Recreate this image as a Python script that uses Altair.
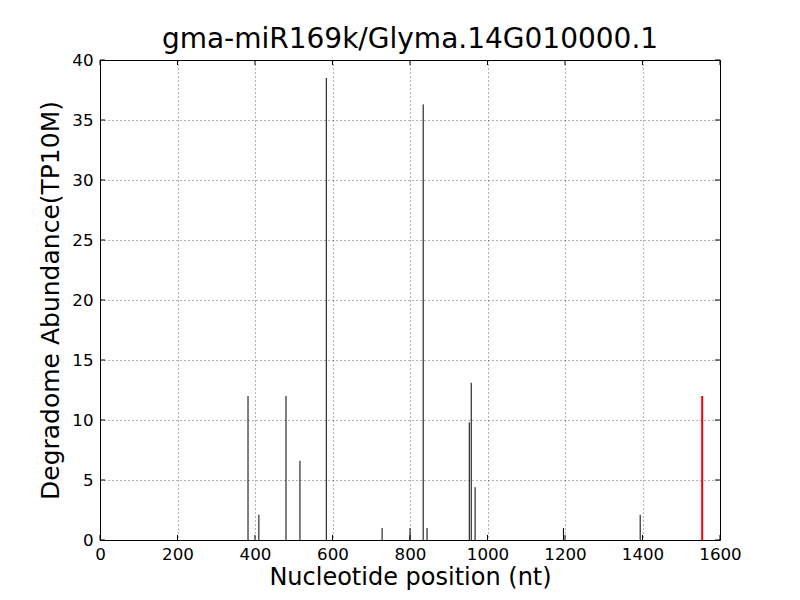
import altair as alt
import pandas as pd

# Data
positions = [382, 410, 480, 516, 584, 728, 800, 834, 844, 953, 958, 968, 1196, 1394]
abundance = [12.0, 2.1, 12.0, 6.6, 38.5, 1.0, 1.0, 36.3, 1.0, 9.8, 13.1, 4.4, 1.0, 2.1]
target_pos = [1554]
target_abund = [12.0]
x_ticks = [0, 200, 400, 600, 800, 1000, 1200, 1400, 1600]
y_ticks = [0, 5, 10, 15, 20, 25, 30, 35, 40]

W, H = 620, 480
FONT = "DejaVu Sans"

df = pd.DataFrame({"pos": positions, "val": abundance, "base": [0] * len(positions)})
dt = pd.DataFrame({"pos": target_pos, "val": target_abund, "base": [0] * len(target_pos)})
dxt = pd.DataFrame({"t": x_ticks})
dyt = pd.DataFrame({"t": y_ticks})

xs = alt.Scale(domain=[0, 1600], nice=False, zero=False)
ys = alt.Scale(domain=[0, 40], nice=False)

x_axis = alt.Axis(values=x_ticks, format="d", grid=True, ticks=False, domain=False,
                  labelFlush=False, labelPadding=6, titlePadding=3, titleFontSize=24,
                  title="Nucleotide position (nt)")
y_axis = alt.Axis(values=y_ticks, format="d", grid=True, ticks=False, domain=False,
                  labelFlush=False, labelPadding=7, titlePadding=8,
                  title="Degradome Abundance(TP10M)")

bars = alt.Chart(df).mark_rule(color="black", strokeWidth=1).encode(
    x=alt.X("pos:Q", scale=xs, axis=x_axis),
    y=alt.Y("val:Q", scale=ys, axis=y_axis),
    y2="base:Q",
)

target = alt.Chart(dt).mark_rule(color="red", strokeWidth=2).encode(
    x=alt.X("pos:Q", scale=xs),
    y=alt.Y("val:Q", scale=ys),
    y2="base:Q",
)

tick_len = 5
bottom_ticks = alt.Chart(dxt).mark_rule(color="black", strokeWidth=1).encode(
    x=alt.X("t:Q", scale=xs), y=alt.value(H), y2=alt.value(H - tick_len))
top_ticks = alt.Chart(dxt).mark_rule(color="black", strokeWidth=1).encode(
    x=alt.X("t:Q", scale=xs), y=alt.value(0), y2=alt.value(tick_len))
left_ticks = alt.Chart(dyt).mark_rule(color="black", strokeWidth=1).encode(
    y=alt.Y("t:Q", scale=ys), x=alt.value(0), x2=alt.value(tick_len))
right_ticks = alt.Chart(dyt).mark_rule(color="black", strokeWidth=1).encode(
    y=alt.Y("t:Q", scale=ys), x=alt.value(W), x2=alt.value(W - tick_len))

chart = alt.layer(bars, target, bottom_ticks, top_ticks, left_ticks, right_ticks).properties(
    width=W, height=H,
    background="white",
    title=alt.TitleParams("gma-miR169k/Glyma.14G010000.1", fontSize=28, font=FONT,
                          fontWeight="normal", color="black", anchor="middle", offset=-2),
    autosize=alt.AutoSizeParams(type="none"),
    padding={"left": 92, "top": 52, "right": 72, "bottom": 52},
).configure_view(
    stroke="black", strokeWidth=1
).configure_axis(
    labelFont=FONT, labelFontSize=16.7, labelColor="black",
    titleFont=FONT, titleFontSize=25, titleFontWeight="normal", titleColor="black",
    gridColor="black", gridWidth=0.6, gridDash=[1, 3], gridOpacity=1,
)

chart.save("out.html", embed_options={"renderer": "svg", "actions": False})
